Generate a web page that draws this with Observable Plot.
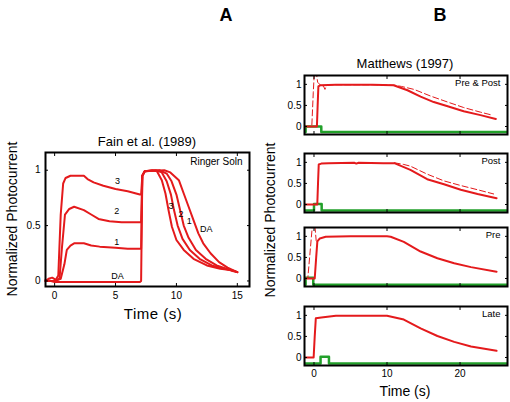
<!DOCTYPE html>
<html><head><meta charset="utf-8">
<script src="https://cdn.jsdelivr.net/npm/d3@7"></script>
<script src="https://cdn.jsdelivr.net/npm/@observablehq/plot@0.6"></script>
<style>
body{margin:0;background:#fff;}
#c{position:relative;width:510px;height:402px;font-family:Arial,"Liberation Sans",sans-serif;overflow:hidden;background:#fff}
.t{position:absolute;white-space:nowrap;color:#000;line-height:1;font-weight:400;transform:translate(-50%,-50%);}
.p{position:absolute;}
</style></head><body><div id="c"></div>
<script>
// ---------- Panel A: Fain et al. (1989) ----------
const fainXTicks = [0, 5, 10, 15];
const fainYTicks = [0, 0.5, 1];
const yTickLabels = ["0", "0.5", "1"];
const fain3 = [[-0.75,0.0],[-0.5,0.02],[-0.2,0.03],[0.1,0.01],[0.3,0.05],[0.5,0.6],[0.7,0.88],[0.9,0.93],[1.3,0.95],[2.4,0.95],[2.7,0.92],[3.2,0.89],[4,0.86],[5,0.83],[6,0.81],[7.0,0.78],[7.1,0.78],[7.2,0.95],[7.4,0.99],[8.0,1.0],[8.4,0.99],[8.8,0.91],[9.1,0.79],[9.35,0.64],[9.63,0.49],[10.0,0.37],[10.6,0.28],[11.4,0.2],[12.5,0.14],[13.6,0.11],[14.4,0.1],[15,0.08]];
const fain2 = [[-0.75,0.0],[0,0.0],[0.4,0.02],[0.6,0.3],[0.85,0.6],[1.2,0.65],[1.6,0.67],[2.4,0.64],[3,0.6],[3.6,0.56],[4.5,0.54],[5.5,0.53],[7.0,0.53],[7.1,0.53],[7.2,0.95],[7.4,0.99],[8.3,1.0],[8.8,0.98],[9.2,0.9],[9.55,0.78],[9.8,0.64],[10.1,0.5],[10.5,0.38],[11.1,0.28],[11.9,0.2],[12.9,0.14],[13.9,0.11],[14.5,0.1],[15,0.08]];
const fain1 = [[-0.75,0.0],[0,0.0],[0.5,0.02],[0.8,0.15],[1.0,0.28],[1.3,0.32],[1.6,0.34],[2.4,0.34],[3,0.32],[3.7,0.31],[5,0.30],[6,0.29],[7,0.29],[7.1,0.29],[7.2,0.95],[7.4,0.99],[8.6,1.0],[9.2,0.97],[9.6,0.9],[10.0,0.78],[10.3,0.64],[10.6,0.5],[11.0,0.39],[11.6,0.28],[12.4,0.2],[13.3,0.14],[14.1,0.11],[14.6,0.09],[15,0.08]];
const fainDA = [[-0.75,0.01],[-0.3,0.0],[0,-0.01],[3,-0.01],[5,-0.01],[7.0,-0.01],[7.1,0.0],[7.2,0.95],[7.4,0.99],[9.0,1.0],[9.5,0.98],[10.2,0.91],[10.6,0.79],[11.0,0.67],[11.4,0.55],[11.8,0.43],[12.2,0.34],[12.8,0.25],[13.5,0.17],[14.2,0.12],[14.6,0.1],[15,0.08]];
const fainLabelText = ["3","2","1","DA","3","2","1","DA"];
const fainLabelX = [5.16,5.1,5.1,5.16,9.55,10.37,11.05,12.45];
const fainLabelY = [0.90,0.63,0.35,0.045,0.68,0.60,0.54,0.47];

// ---------- Panel B: Matthews (1997) ----------
const mXTicks = [0, 10, 20];
const mYTicks = [0, 0.5, 1];
const mNames = ["Pre & Post", "Post", "Pre", "Late"];
const mSolid = [
  [[-1.3,0],[0.4,0],[0.5,0.5],[0.6,0.95],[0.9,0.98],[3,0.99],[8,0.99],[10.9,0.98],[12.8,0.86],[14.6,0.71],[16.4,0.58],[18.3,0.48],[20.5,0.36],[22.8,0.27],[24.9,0.18]],
  [[-1.3,0],[0.45,0],[0.55,0.5],[0.65,0.95],[1.0,0.97],[2,0.98],[5.5,0.99],[5.8,0.97],[6.1,0.99],[9.5,0.98],[11,0.98],[13.2,0.82],[15.5,0.6],[17.8,0.48],[20.1,0.35],[22.4,0.25],[25,0.15]],
  [[-1.3,0],[0.1,0],[0.3,0.5],[0.46,0.88],[0.8,0.95],[1.6,0.99],[5,1.0],[10,1.0],[10.5,0.99],[12.3,0.87],[14.6,0.64],[16.9,0.48],[19.2,0.36],[21.5,0.27],[25,0.16]],
  [[-1.3,0],[-0.05,0],[0.1,0.5],[0.25,0.93],[1,0.95],[3,0.99],[10,0.99],[12.3,0.9],[14.6,0.69],[16.9,0.51],[19.2,0.37],[21.5,0.26],[25,0.16]]
];
const mDashed = [
  [[-1.3,0],[-0.3,0],[-0.1,0.8],[0.05,1.3],[0.3,1.3],[0.5,1.05],[0.9,0.98],[1.3,0.96],[1.5,0.88],[1.7,0.97],[2.2,0.99],[8,0.99],[11,0.98],[12,0.95],[13.7,0.88],[16,0.72],[18.3,0.58],[20.5,0.45],[22.8,0.34],[24.4,0.27]],
  [[11,0.99],[12.3,0.95],[13.2,0.91],[15.5,0.72],[17.8,0.56],[20.1,0.45],[22.4,0.35],[24.6,0.25]],
  [[-1.3,0],[-0.85,0],[-0.5,0.7],[-0.2,1.3],[0.1,1.3],[0.3,0.9],[0.45,0.85]],
  []
];
const mStim = [
  [[-1.3,-0.13],[-1.15,-0.13],[-1.15,0.0],[1.0,0.0],[1.0,-0.13],[26.5,-0.13]],
  [[-1.3,-0.14],[0.0,-0.14],[0.0,0.01],[1.05,0.01],[1.05,-0.14],[26.5,-0.14]],
  [[-1.3,-0.15],[-1.15,-0.15],[-1.15,0.02],[-0.1,0.02],[-0.1,-0.15],[26.5,-0.15]],
  [[-1.3,-0.14],[0.9,-0.14],[0.9,0.02],[2.05,0.02],[2.05,-0.14],[26.5,-0.14]]
];

const RED = "#e41a1c", GREEN = "#22a02a";
const FONT = "Arial, 'Liberation Sans', sans-serif";
const pts = a => a.map(([t, v]) => ({t, v}));
const fmtY = d => yTickLabels[fainYTicks.indexOf(d)];

const c = document.getElementById("c");
function place(el, left, top) {
  const d = document.createElement("div");
  d.className = "p"; d.style.left = left + "px"; d.style.top = top + "px";
  d.appendChild(el); c.appendChild(d);
}
function txt(s, x, y, size, extra) {
  const d = document.createElement("div");
  d.className = "t"; d.textContent = s;
  d.style.left = x + "px"; d.style.top = y + "px"; d.style.fontSize = size + "px";
  if (extra) Object.assign(d.style, extra);
  c.appendChild(d);
}

// Panel A plot
const fainLabels = fainLabelText.map((s, i) => ({s, t: fainLabelX[i], v: fainLabelY[i]}));
const plotA = Plot.plot({
  width: 260, height: 200, marginLeft: 45, marginRight: 11, marginTop: 22, marginBottom: 44,
  style: {fontFamily: FONT, fontSize: "9px", background: "transparent", overflow: "visible"},
  x: {domain: [-0.75, 16]}, y: {domain: [-0.05, 1.16]},
  marks: [
    ...[fain3, fain2, fain1, fainDA].map(s => Plot.line(pts(s), {x: "t", y: "v", stroke: RED, strokeWidth: 2})),
    Plot.text(fainLabels, {x: "t", y: "v", text: "s", fontSize: 9, fill: "black"}),
    Plot.text(["Ringer Soln"], {frameAnchor: "top-right", dx: -7, dy: 5, fontSize: 10, fill: "black"}),
    Plot.axisX(fainXTicks, {anchor: "bottom", tickSize: 0, tickPadding: 5, label: null, fontSize: 10}),
    Plot.axisX(fainXTicks, {anchor: "bottom", tickSize: -3, tickFormat: () => "", label: null}),
    Plot.axisX(fainXTicks, {anchor: "top", tickSize: -3, tickFormat: () => "", label: null}),
    Plot.axisY(fainYTicks, {anchor: "left", tickSize: 0, tickPadding: 5, tickFormat: fmtY, label: null, fontSize: 10}),
    Plot.axisY(fainYTicks, {anchor: "left", tickSize: -3, tickFormat: () => "", label: null}),
    Plot.axisY(fainYTicks, {anchor: "right", tickSize: -3, tickFormat: () => "", label: null}),
    Plot.frame({stroke: "black", strokeWidth: 2})
  ]
});
place(plotA, 0, 130);

// Panel B subplots
const frameTops = [75, 153, 227, 306];
mNames.forEach((name, i) => {
  const last = i === mNames.length - 1;
  const p = Plot.plot({
    width: 250, height: 59 + 5 + 20, marginLeft: 44, marginRight: 3, marginTop: 5, marginBottom: 20,
    style: {fontFamily: FONT, fontSize: "9px", background: "transparent", overflow: "visible"},
    x: {domain: [-1.3, 26.5]}, y: {domain: [-0.19, 1.21]},
    marks: [
      Plot.line(pts(mStim[i]), {x: "t", y: "v", stroke: GREEN, strokeWidth: 2.5, clip: true}),
      Plot.line(pts(mSolid[i]), {x: "t", y: "v", stroke: RED, strokeWidth: 2, clip: true}),
      Plot.line(pts(mDashed[i]), {x: "t", y: "v", stroke: RED, strokeWidth: 1, strokeDasharray: "6,3", clip: true}),
      Plot.text([name], {frameAnchor: "top-right", dx: -7, dy: 4, fontSize: 9.5, fill: "black"}),
      Plot.axisX(mXTicks, {anchor: "bottom", tickSize: 0, tickPadding: 4, label: null, fontSize: 10, tickFormat: last ? (d => String(d)) : () => ""}),
      Plot.axisX(mXTicks, {anchor: "bottom", tickSize: -3, tickFormat: () => "", label: null}),
      Plot.axisX(mXTicks, {anchor: "top", tickSize: -3, tickFormat: () => "", label: null}),
      Plot.axisY(mYTicks, {anchor: "left", tickSize: 0, tickPadding: 3, tickFormat: fmtY, label: null, fontSize: 10}),
      Plot.axisY(mYTicks, {anchor: "left", tickSize: -3, tickFormat: () => "", label: null}),
      Plot.axisY(mYTicks, {anchor: "right", tickSize: -3, tickFormat: () => "", label: null}),
      Plot.frame({stroke: "black", strokeWidth: 2})
    ]
  });
  place(p, 260, frameTops[i] - 5);
});

// Titles and labels
txt("A", 226, 15, 18, {fontWeight: "bold"});
txt("B", 440, 15, 18, {fontWeight: "bold"});
txt("Fain et al. (1989)", 147, 141, 13);
txt("Matthews (1997)", 405, 63, 13);
txt("Time (s)", 153, 313, 15, {letterSpacing: "0.5px"});
txt("Time (s)", 405, 391, 14);
txt("Normalized Photocurrent", 12, 219, 14, {transform: "translate(-50%,-50%) rotate(-90deg)"});
txt("Normalized Photocurrent", 270, 220, 14, {transform: "translate(-50%,-50%) rotate(-90deg)"});
</script></body></html>
